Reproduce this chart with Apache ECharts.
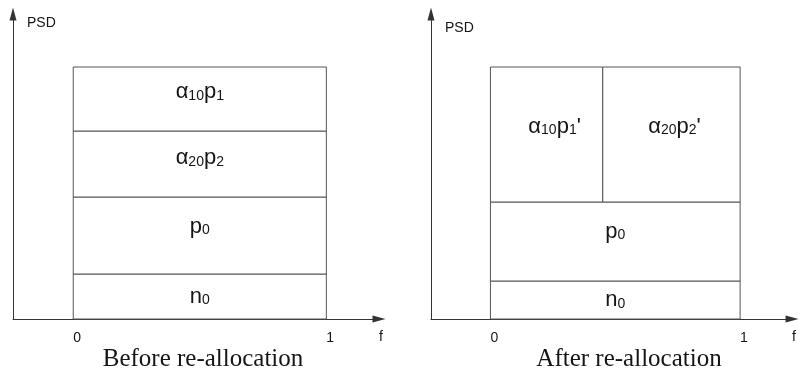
<!DOCTYPE html>
<html>
<head>
<meta charset="utf-8">
<script src="https://cdn.jsdelivr.net/npm/echarts@6/dist/echarts.min.js"></script>
<style>
  html, body { margin: 0; padding: 0; background: #fff; }
  #chart { width: 799px; height: 377px; }
</style>
</head>
<body>
<div id="chart"></div>
<script>
// Power spectral density bands stacked over the normalised band f = 0..1

// Before re-allocation: bands from the bottom up
const beforeBands = ['n0', 'p0', 'α20p2', 'α10p1'];
const beforeHeights = [0.45, 0.77, 0.66, 0.64];

// After re-allocation: full-width bands from the bottom up
const afterBands = ['n0', 'p0'];
const afterHeights = [0.38, 0.79];
// ...then the two side-by-side bands on top
const afterTopBands = ["α10p1'", "α20p2'"];
const afterTopSplit = [0, 0.45, 1];
const afterTopHeight = 1.35;

const fTicks = [0, 1];
const captions = ['Before re-allocation', 'After re-allocation'];

// label nudges inside each cell, in pixels [dx, dy]
const labelNudge = {
  before: { 'n0': [0, 0], 'p0': [0, -9], 'α20p2': [0, -6], 'α10p1': [0, -7] },
  after: { 'n0': [0, 0], 'p0': [0, -10], "α10p1'": [8, -8], "α20p2'": [3, -8] }
};

function stack(names, heights, base) {
  const cells = [];
  let y = base;
  names.forEach((n, i) => {
    cells.push([0, 1, y, y + heights[i], n]);
    y += heights[i];
  });
  return { cells, top: y };
}

const beforeCells = stack(beforeBands, beforeHeights, 0).cells;
const afterStack = stack(afterBands, afterHeights, 0);
const afterCells = afterStack.cells.slice();
afterTopBands.forEach((n, i) => {
  afterCells.push([afterTopSplit[i], afterTopSplit[i + 1], afterStack.top, afterStack.top + afterTopHeight, n]);
});

// 'α10p1' -> rich text with subscripted digit groups
function richName(name) {
  return ('{m|' + name.replace(/(\d+)/g, '}{s|$1}{m|') + '}').replace(/\{m\|\}/g, '');
}

const FONT = '"Liberation Sans", Arial, sans-serif';
const LINE = '#555';
const AXIS = '#333';
const INK = '#151515';

function cellRenderer(cells, nudges) {
  return function (params, api) {
    const cell = cells[params.dataIndex];
    const name = cell[4];
    const a = api.coord([api.value(0), api.value(2)]);
    const b = api.coord([api.value(1), api.value(3)]);
    const nd = nudges[name] || [0, 0];
    return {
      type: 'rect',
      shape: { x: a[0], y: b[1], width: b[0] - a[0], height: a[1] - b[1] },
      style: { fill: '#fff', stroke: LINE, lineWidth: 1 },
      textContent: {
        style: {
          text: richName(name),
          fill: INK,
          rich: {
            m: { fontSize: 22, fontFamily: FONT, fill: INK, verticalAlign: 'bottom' },
            s: { fontSize: 14, fontFamily: FONT, fill: INK, verticalAlign: 'bottom' }
          }
        }
      },
      textConfig: { position: 'inside', offset: nd }
    };
  };
}

function xAxisFor(gridIndex) {
  return {
    type: 'value', gridIndex, min: -0.238, max: 1.208,
    name: 'f', nameLocation: 'end', nameGap: 2,
    nameTextStyle: { fontFamily: FONT, fontSize: 14, color: INK, align: 'center', verticalAlign: 'top', padding: [11, 0, 0, 0] },
    axisLine: { show: true, onZero: false, symbol: ['none', 'triangle'], symbolSize: [7, 13], lineStyle: { color: AXIS, width: 1 } },
    axisTick: { show: false },
    splitLine: { show: false },
    axisLabel: { customValues: fTicks, fontFamily: FONT, fontSize: 14, color: INK, margin: 12, align: 'left' }
  };
}

function yAxisFor(gridIndex, gap) {
  return {
    type: 'value', gridIndex, min: 0, max: 3.05,
    name: 'PSD', nameLocation: 'end', nameGap: gap,
    nameTextStyle: { fontFamily: FONT, fontSize: 14, color: INK, align: 'left', verticalAlign: 'middle', padding: [0, 0, 0, 14] },
    axisLine: { show: true, onZero: false, symbol: ['none', 'triangle'], symbolSize: [7, 13], lineStyle: { color: AXIS, width: 1 } },
    axisTick: { show: false },
    splitLine: { show: false },
    axisLabel: { show: false }
  };
}

const chart = echarts.init(document.getElementById('chart'), null, { renderer: 'canvas' });
chart.setOption({
  animation: false,
  backgroundColor: '#fff',
  title: captions.map((t, i) => ({
    text: t,
    left: i === 0 ? 198 : 624,
    top: 342,
    textAlign: 'center',
    textStyle: { fontFamily: '"Liberation Serif", "Times New Roman", serif', fontSize: 25, fontWeight: 'normal', color: INK }
  })),
  grid: [
    { left: 13, top: 14, width: 366, height: 305 },
    { left: 431, top: 14, width: 363, height: 305 }
  ],
  xAxis: [xAxisFor(0), xAxisFor(1)],
  yAxis: [yAxisFor(0, -9), yAxisFor(1, -14)],
  series: [
    {
      type: 'custom', xAxisIndex: 0, yAxisIndex: 0,
      renderItem: cellRenderer(beforeCells, labelNudge.before),
      encode: { x: [0, 1], y: [2, 3] },
      data: beforeCells
    },
    {
      type: 'custom', xAxisIndex: 1, yAxisIndex: 1,
      renderItem: cellRenderer(afterCells, labelNudge.after),
      encode: { x: [0, 1], y: [2, 3] },
      data: afterCells
    }
  ]
});
</script>
</body>
</html>
